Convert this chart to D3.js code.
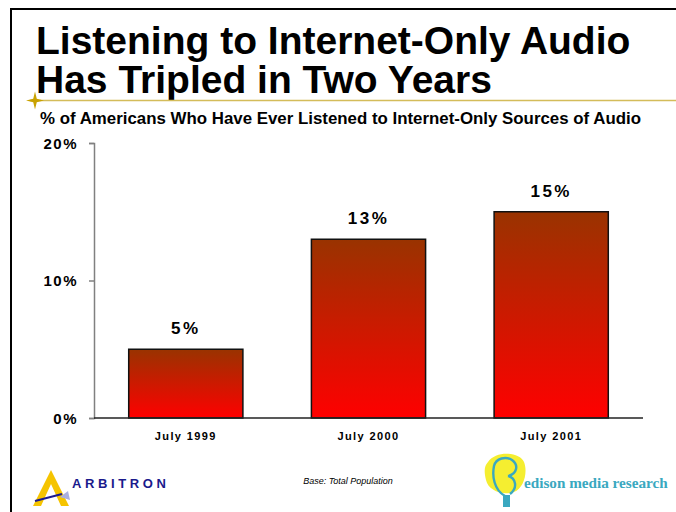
<!DOCTYPE html>
<html>
<head>
<meta charset="utf-8">
<script src="https://cdn.jsdelivr.net/npm/d3@7/dist/d3.min.js"></script>
<style>
  html, body { margin: 0; padding: 0; background: #fff; }
  svg { display: block; }
</style>
</head>
<body>
<svg id="chart" width="676" height="512"></svg>
<script>
// Survey periods and share of Americans who have ever listened (percent)
const categories = ["July 1999", "July 2000", "July 2001"];
const values = [5, 13, 15];
const yTicks = [0, 10, 20];
const titleLines = ["Listening to Internet-Only Audio", "Has Tripled in Two Years"];
const subtitle = "% of Americans Who Have Ever Listened to Internet-Only Sources of Audio";
const baseNote = "Base: Total Population";

const svg = d3.select("#chart");
const font = "'Liberation Sans', Arial, Helvetica, sans-serif";

// Slide frame
svg.append("line").attr("x1", 10).attr("x2", 676).attr("y1", 9).attr("y2", 9)
  .attr("stroke", "#000").attr("stroke-width", 2);
svg.append("line").attr("x1", 11).attr("x2", 11).attr("y1", 8).attr("y2", 512)
  .attr("stroke", "#000").attr("stroke-width", 2);

// Title
svg.append("g").selectAll("text").data(titleLines).join("text")
  .attr("x", 36).attr("y", (d, i) => 54 + i * 39)
  .attr("font-family", font).attr("font-weight", "bold").attr("font-size", 39)
  .attr("fill", "#000").text(d => d);

// Gold rule with star
svg.append("line").attr("x1", 30).attr("x2", 676).attr("y1", 100.5).attr("y2", 100.5)
  .attr("stroke", "#d4bc5a").attr("stroke-width", 1.5);
const star = d3.path();
const cx = 35, cy = 100.5, r = 9, ri = 2.5;
for (let k = 0; k < 8; k++) {
  const a = k * Math.PI / 4 - Math.PI / 2;
  const rr = k % 2 === 0 ? r : ri;
  const px = cx + rr * Math.cos(a), py = cy + rr * Math.sin(a);
  if (k === 0) star.moveTo(px, py); else star.lineTo(px, py);
}
star.closePath();
svg.append("path").attr("d", star.toString()).attr("fill", "#c9a200");

// Subtitle
svg.append("text").attr("x", 40).attr("y", 124)
  .attr("font-family", font).attr("font-weight", "bold").attr("font-size", 16.5)
  .attr("textLength", 601).attr("lengthAdjust", "spacingAndGlyphs")
  .attr("fill", "#000").text(subtitle);

// Scales
const margin = { left: 94, right: 643, top: 143, bottom: 418 };
const x = d3.scaleBand().domain(categories).range([margin.left, margin.right])
  .paddingInner(0.375).paddingOuter(0.19);
const y = d3.scaleLinear().domain([0, 20]).range([margin.bottom, margin.top]);

// Gradient for bars
const defs = svg.append("defs");
const grad = defs.append("linearGradient").attr("id", "barGrad")
  .attr("x1", 0).attr("y1", 0).attr("x2", 0).attr("y2", 1);
grad.append("stop").attr("offset", "0%").attr("stop-color", "#993300");
grad.append("stop").attr("offset", "100%").attr("stop-color", "#ff0000");

// Y axis
const yAxis = d3.axisLeft(y).tickValues(yTicks).tickFormat(d => d + "%").tickSize(5).tickPadding(11);
const yg = svg.append("g").attr("transform", `translate(${margin.left},0)`).call(yAxis);
yg.select(".domain").attr("stroke", "#808080").attr("stroke-width", 1.5);
yg.selectAll(".tick line").attr("stroke", "#808080").attr("stroke-width", 1.5);
yg.selectAll(".tick text").attr("font-family", font).attr("font-weight", "bold")
  .attr("font-size", 15).attr("fill", "#000").attr("letter-spacing", 1.5).attr("dy", "0.36em");

// Bars
svg.append("g").selectAll("rect").data(values).join("rect")
  .attr("x", (d, i) => x(categories[i]))
  .attr("y", d => y(d))
  .attr("width", x.bandwidth())
  .attr("height", d => y(0) - y(d))
  .attr("fill", "url(#barGrad)")
  .attr("stroke", "#111").attr("stroke-width", 1.5);

// Baseline
svg.append("line").attr("x1", margin.left).attr("x2", margin.right)
  .attr("y1", y(0)).attr("y2", y(0)).attr("stroke", "#222").attr("stroke-width", 1.5);

// Value labels
svg.append("g").selectAll("text").data(values).join("text")
  .attr("x", (d, i) => x(categories[i]) + x.bandwidth() / 2)
  .attr("y", d => y(d) - 15)
  .attr("text-anchor", "middle")
  .attr("font-family", font).attr("font-weight", "bold").attr("font-size", 17)
  .attr("letter-spacing", 2.5).attr("fill", "#000")
  .text(d => d + "%");

// Category labels
const xAxis = d3.axisBottom(x).tickSize(0).tickPadding(14);
const xg = svg.append("g").attr("transform", `translate(0,${y(0)})`).call(xAxis);
xg.select(".domain").remove();
xg.selectAll(".tick text").attr("font-family", font).attr("font-weight", "bold")
  .attr("font-size", 11).attr("letter-spacing", 1.4).attr("fill", "#000");

// Footnote
svg.append("text").attr("x", 348).attr("y", 484).attr("text-anchor", "middle")
  .attr("font-family", font).attr("font-style", "italic").attr("font-size", 9)
  .attr("fill", "#000").text(baseNote);

// Arbitron mark
const arb = svg.append("g");
arb.append("path").attr("d", "M33,506 L51,470 L69,506 L61,506 L51,484 L41,506 Z").attr("fill", "#f5c400");
arb.append("line").attr("x1", 35).attr("y1", 501).attr("x2", 62).attr("y2", 494)
  .attr("stroke", "#1a1a90").attr("stroke-width", 2);
arb.append("path").attr("d", "M60,497 L68,491 L70,500 Z").attr("fill", "#aab0e0");
arb.append("text").attr("x", 72).attr("y", 488)
  .attr("font-family", font).attr("font-weight", "bold").attr("font-size", 13).attr("letter-spacing", 3.6)
  .attr("fill", "#1a1a8c").text("ARBITRON");

// Edison mark
const ed = svg.append("g");
ed.append("path")
  .attr("d", "M488,462 C496,450 520,452 524,462 C528,472 524,488 514,492 C502,496 488,490 486,480 C484,472 484,466 488,462 Z")
  .attr("fill", "#f5ee30");
ed.append("path")
  .attr("d", "M505,496 C494,490 492,476 494,466 C496,458 506,456 512,460 C519,465 517,474 508,476 M508,476 C516,478 518,488 510,494")
  .attr("fill", "none").attr("stroke", "#3aa8c0").attr("stroke-width", 2.4);
ed.append("rect").attr("x", 503).attr("y", 495).attr("width", 7).attr("height", 12)
  .attr("fill", "#3aa8c0");
ed.append("text").attr("x", 524).attr("y", 488)
  .attr("font-family", "'Liberation Serif', 'DejaVu Serif', serif").attr("font-weight", "bold")
  .attr("font-size", 15.2).attr("fill", "#3aa8c0").text("edison media research");
</script>
</body>
</html>
